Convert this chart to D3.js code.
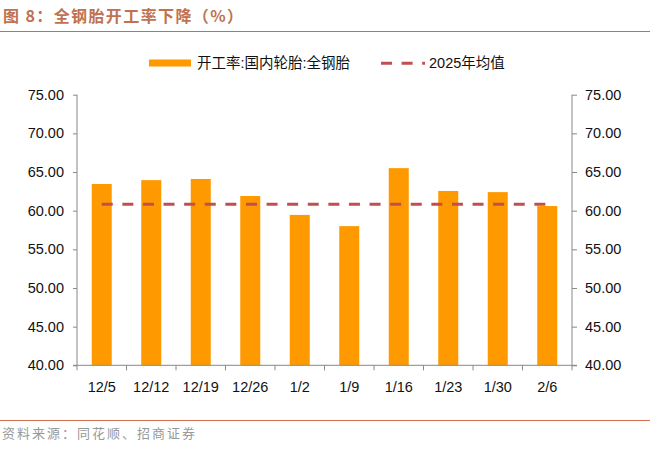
<!DOCTYPE html>
<html>
<head>
<meta charset="utf-8">
<script src="https://cdn.jsdelivr.net/npm/d3@7"></script>
<style>
  body { margin: 0; background: #fff; }
  svg { display: block; }
</style>
</head>
<body>
<svg id="chart" width="660" height="455"></svg>
<script>
const categories = ["12/5","12/12","12/19","12/26","1/2","1/9","1/16","1/23","1/30","2/6"];
const utilization = [63.45, 63.95, 64.1, 61.9, 59.45, 58.0, 65.5, 62.55, 62.4, 60.6];
const avg2025 = [60.82, 60.82, 60.82, 60.82, 60.82, 60.82, 60.82, 60.82, 60.82, 60.82];
const yTicks = [40, 45, 50, 55, 60, 65, 70, 75];
const seriesNames = ["开工率:国内轮胎:全钢胎", "2025年均值"];
const titleText = "图 8：全钢胎开工率下降（%）";
const sourceText = "资料来源：同花顺、招商证券";

const svg = d3.select("#chart");
const pL = 77, pR = 572, pT = 94.7, pB = 365.3;
const numFont = "'Liberation Sans', Arial, sans-serif";
const cjkFont = "'Liberation Sans', 'Noto Sans CJK SC', sans-serif";
const accent = "#BF7152";

const x = d3.scaleBand().domain(categories).range([pL, pR]).paddingInner(0).paddingOuter(0);
const y = d3.scaleLinear().domain([40, 75]).range([pB, pT]);

// Title
svg.append("text").attr("x", 3).attr("y", 22)
  .attr("font-family", "'Noto Sans CJK SC', sans-serif").attr("font-weight", "bold")
  .attr("font-size", 16).attr("fill", accent).attr("letter-spacing", 1.4)
  .text(titleText);
svg.append("line").attr("x1", 0).attr("x2", 650).attr("y1", 31.5).attr("y2", 31.5)
  .attr("stroke", accent).attr("stroke-width", 1.2);

// Bars
const bw = 20;
svg.append("g").selectAll("rect").data(categories).join("rect")
  .attr("x", d => x(d) + x.bandwidth() / 2 - bw / 2)
  .attr("width", bw)
  .attr("y", (d, i) => y(utilization[i]))
  .attr("height", (d, i) => y(40) - y(utilization[i]))
  .attr("fill", "#FF9900");

// Average dashed line
const line = d3.line().x((d, i) => x(categories[i]) + x.bandwidth() / 2).y(d => y(d));
svg.append("path").datum(avg2025).attr("d", line)
  .attr("fill", "none").attr("stroke", "#C0504D").attr("stroke-width", 3)
  .attr("stroke-dasharray", "11,9.6");

// Axes
const axisColor = "#888";
const gL = svg.append("g").attr("transform", `translate(${pL},0)`)
  .call(d3.axisLeft(y).tickValues(yTicks).tickFormat(d3.format(".2f")).tickSize(4).tickPadding(9));
const gR = svg.append("g").attr("transform", `translate(${pR},0)`)
  .call(d3.axisRight(y).tickValues(yTicks).tickFormat(d3.format(".2f")).tickSize(5).tickPadding(8));
const gB = svg.append("g").attr("transform", `translate(0,${pB})`)
  .call(d3.axisBottom(x).tickSize(0).tickPadding(16));
// bottom ticks at band boundaries
const bounds = categories.map(c => x(c)).concat([pR]);
svg.append("g").selectAll("line").data(bounds).join("line")
  .attr("x1", d => d).attr("x2", d => d).attr("y1", pB).attr("y2", pB + 5)
  .attr("stroke", axisColor);
svg.append("line").attr("x1", pL - 4).attr("x2", pR + 5).attr("y1", pB).attr("y2", pB)
  .attr("stroke", axisColor);

[gL, gR, gB].forEach(g => {
  g.select(".domain").attr("stroke", axisColor);
  g.selectAll(".tick line").attr("stroke", axisColor);
  g.selectAll("text").attr("font-family", numFont).attr("font-size", 14.5).attr("fill", "#111");
});
gB.select(".domain").remove();
gL.selectAll(".domain").attr("d", `M0,${pT}V${pB}`);
gR.selectAll(".domain").attr("d", `M0,${pT}V${pB}`);

// Legend
const lg = svg.append("g");
lg.append("rect").attr("x", 149).attr("y", 59.5).attr("width", 42).attr("height", 7).attr("fill", "#FF9900");
lg.append("text").attr("x", 197).attr("y", 68).attr("font-family", cjkFont).attr("font-size", 14.5)
  .attr("fill", "#111").text(seriesNames[0]);
lg.append("line").attr("x1", 381).attr("x2", 425).attr("y1", 63.3).attr("y2", 63.3)
  .attr("stroke", "#C0504D").attr("stroke-width", 3).attr("stroke-dasharray", "11,9.6");
lg.append("text").attr("x", 429).attr("y", 68).attr("font-family", cjkFont).attr("font-size", 14.5)
  .attr("fill", "#111").text(seriesNames[1]);

// Source
svg.append("line").attr("x1", 0).attr("x2", 650).attr("y1", 420.5).attr("y2", 420.5)
  .attr("stroke", "#D0704E").attr("stroke-width", 1.2);
svg.append("text").attr("x", 2).attr("y", 438).attr("font-family", "'Noto Sans CJK SC', sans-serif")
  .attr("font-size", 13).attr("fill", "#999").attr("letter-spacing", 2).text(sourceText);
</script>
</body>
</html>
